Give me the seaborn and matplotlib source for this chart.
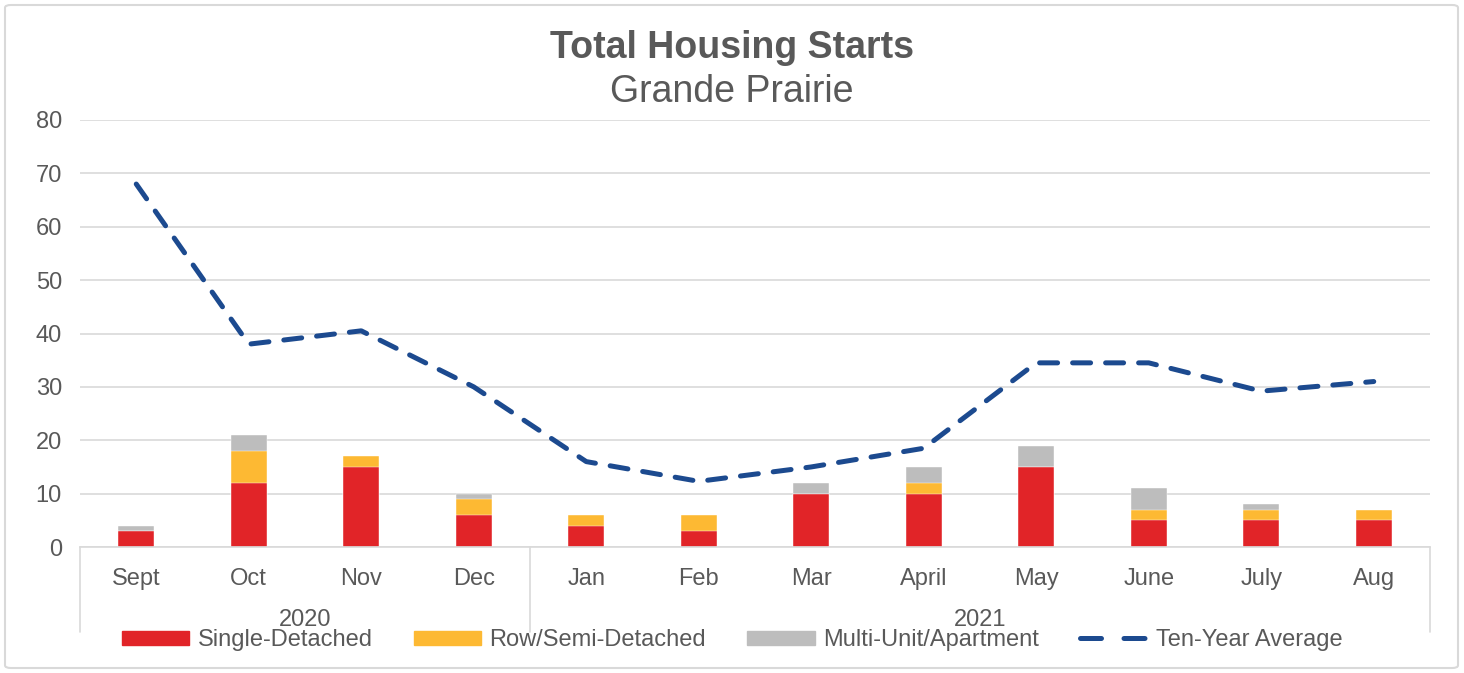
import numpy as np
import pandas as pd
import seaborn as sns
import matplotlib.pyplot as plt
from matplotlib.patches import FancyBboxPatch
from matplotlib.lines import Line2D
from matplotlib.patches import Patch
import matplotlib.transforms as mtransforms

# データ
months = ["Sept", "Oct", "Nov", "Dec", "Jan", "Feb", "Mar", "April", "May", "June", "July", "Aug"]
years = ["2020", "2021"]
single = [3, 12, 15, 6, 4, 3, 10, 10, 15, 5, 5, 5]
row_semi = [0, 6, 2, 3, 2, 3, 0, 2, 0, 2, 2, 2]
multi = [1, 3, 0, 1, 0, 0, 2, 3, 4, 4, 1, 0]
ten_year_avg = [68, 38, 40.5, 30, 16, 12.3, 15, 18.5, 34.5, 34.5, 29.2, 31]

RED = "#e12428"
YELLOW = "#fdb933"
GRAY = "#bdbdbd"
BLUE = "#1c4a8f"
TXT = "#595959"
GRID = "#d9d9d9"

df = pd.DataFrame({"Month": months, "Single": single, "Row": row_semi, "Multi": multi,
                   "Avg": ten_year_avg})
df["c1"] = df["Single"]
df["c2"] = df["Single"] + df["Row"]
df["c3"] = df["c2"] + df["Multi"]

sns.set_theme(style="white")
plt.rcParams["font.family"] = ["Liberation Sans", "DejaVu Sans"]

fig = plt.figure(figsize=(14.64, 6.73), dpi=100)
ax = fig.add_axes([80 / 1464, 1 - 547 / 673, 1350 / 1464, 427 / 673])

# 積み上げ棒（合計から順に重ねる）
sns.barplot(data=df, x="Month", y="c3", color=GRAY, width=0.32, saturation=1, ax=ax)
sns.barplot(data=df, x="Month", y="c2", color=YELLOW, width=0.32, saturation=1, ax=ax)
sns.barplot(data=df, x="Month", y="c1", color=RED, width=0.32, saturation=1, ax=ax)
for p in ax.patches:
    p.set_edgecolor("white")
    p.set_linewidth(0.3)

# 10年平均
sns.lineplot(data=df, x="Month", y="Avg", sort=False, color=BLUE, lw=3.6, ax=ax)
ln = ax.lines[-1]
ln.set_dashes((3.6, 3.0))
ln.set_dash_capstyle("round")

ax.set_xlim(-0.5, 11.5)
ax.set_ylim(0, 80)
ax.set_yticks(range(0, 81, 10))
ax.yaxis.grid(True, color=GRID, lw=1.2)
ax.set_axisbelow(True)
for s in ["top", "right", "left"]:
    ax.spines[s].set_visible(False)
ax.spines["bottom"].set_color(GRID)
ax.spines["bottom"].set_linewidth(1.2)
ax.tick_params(axis="y", length=0, labelsize=17, labelcolor=TXT, pad=13)
ax.tick_params(axis="x", length=0, labelsize=17, labelcolor=TXT, pad=15)
ax.set_xlabel("")
ax.set_ylabel("")

# 年ラベルと区切り線
trans = mtransforms.blended_transform_factory(ax.transData, ax.transAxes)
for xs in [-0.5, 3.5, 11.5]:
    ax.plot([xs, xs], [0, -0.2], transform=trans, color=GRID, lw=1.2, clip_on=False)
ax.text(1.5, -0.172, years[0], transform=trans, ha="center", va="center", fontsize=17, color=TXT)
ax.text(7.5, -0.172, years[1], transform=trans, ha="center", va="center", fontsize=17, color=TXT)

# タイトル
fig.text(0.5, 1 - 48 / 673, "Total Housing Starts", ha="center", va="center",
         fontsize=27, fontweight="bold", color=TXT)
fig.text(0.5, 1 - 92 / 673, "Grande Prairie", ha="center", va="center",
         fontsize=27, color=TXT)

# 凡例
handles = [Patch(color=RED), Patch(color=YELLOW), Patch(color=GRAY),
           Line2D([], [], color=BLUE, lw=3.6, dashes=(4.2, 4.5), dash_capstyle="round")]
labels = ["Single-Detached", "Row/Semi-Detached", "Multi-Unit/Apartment", "Ten-Year Average"]
fig.legend(handles, labels, loc="center", bbox_to_anchor=(0.5, 1 - 640 / 673), ncol=4,
           frameon=False, fontsize=17, labelcolor=TXT, handlelength=2.85, handleheight=0.55,
           handletextpad=0.35, columnspacing=1.75)

# 外枠
fig.patches.append(FancyBboxPatch((5 / 1464, 5 / 673), 1453 / 1464, 663 / 673,
                                  boxstyle="round,pad=0,rounding_size=0.004",
                                  transform=fig.transFigure, fill=False,
                                  edgecolor=GRID, lw=1.5))

plt.savefig("out.png", dpi=100)
